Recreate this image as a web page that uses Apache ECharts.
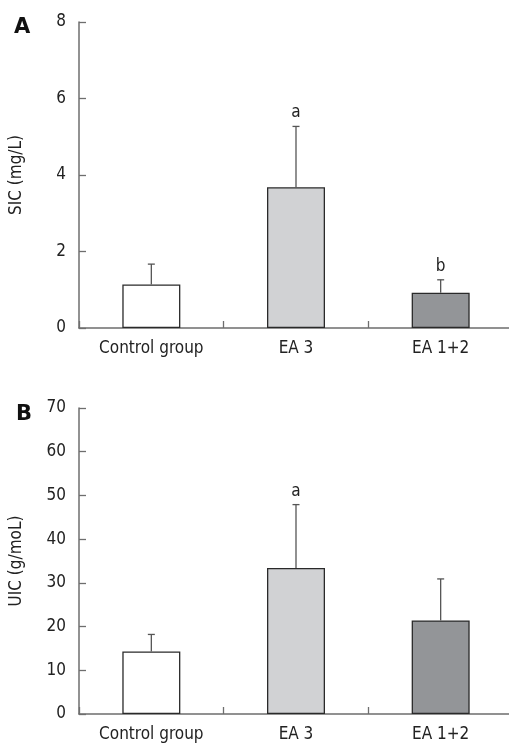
<!DOCTYPE html>
<html>
<head>
<meta charset="utf-8">
<script src="https://cdn.jsdelivr.net/npm/echarts@6/dist/echarts.min.js"></script>
<style>
  html, body { margin: 0; padding: 0; background: #fff; }
  #chart { width: 509px; height: 745px; }
</style>
</head>
<body>
<div id="chart"></div>
<script>
'use strict';

//data
var groups = ['Control group', 'EA 3', 'EA 1+2'];
var barColors = ['#ffffff', '#d1d2d4', '#939598'];

var sicMean = [1.14, 3.68, 0.92];
var sicSd = [0.53, 1.59, 0.34];
var sicSig = ['', 'a', 'b'];

var uicMean = [14.3, 33.4, 21.4];
var uicSd = [3.9, 14.5, 9.5];
var uicSig = ['', 'a', ''];

var FONT = '"DejaVu Sans Condensed", "DejaVu Sans", sans-serif';
var AXIS = '#6e6e6e';

//build bar data with per-item colours
function barData(values) {
  return values.map(function(v, i) {
    return { value: v, itemStyle: { color: barColors[i] } };
  });
}

//error bar (upper only) + significance letter
function errRender(sig) {
  return function(params, api) {
    var i = api.value(0);
    var base = api.coord([i, api.value(1)]);
    var top = api.coord([i, api.value(1) + api.value(2)]);
    var style = { stroke: '#555', lineWidth: 1.3 };
    var children = [
      { type: 'line', shape: { x1: base[0], y1: base[1], x2: top[0], y2: top[1] }, style: style },
      { type: 'line', shape: { x1: top[0] - 3.5, y1: top[1], x2: top[0] + 3.5, y2: top[1] }, style: style }
    ];
    if (sig[i]) {
      children.push({
        type: 'text',
        style: {
          x: top[0], y: top[1] - 5, text: sig[i],
          align: 'center', verticalAlign: 'bottom',
          font: '17px ' + FONT, fill: '#222'
        }
      });
    }
    return { type: 'group', children: children };
  };
}

function errData(mean, sd) {
  return mean.map(function(m, i) { return [i, m, sd[i]]; });
}

function xAxis(gridIndex) {
  return {
    type: 'category', gridIndex: gridIndex, data: groups,
    axisLine: { lineStyle: { color: AXIS, width: 1.5 } },
    axisTick: { show: true, inside: true, length: 7, alignWithLabel: false, lineStyle: { color: AXIS, width: 1.3 } },
    axisLabel: { color: '#222', fontSize: 17, fontFamily: FONT, margin: 12 }
  };
}

function yAxis(gridIndex, max, interval, name) {
  return {
    type: 'value', gridIndex: gridIndex, min: 0, max: max, interval: interval,
    name: name, nameLocation: 'middle', nameGap: 54,
    nameTextStyle: { color: '#222', fontSize: 17, fontFamily: FONT },
    axisLine: { show: true, lineStyle: { color: AXIS, width: 1.5 } },
    axisTick: { show: true, inside: true, length: 7, lineStyle: { color: AXIS, width: 1.3 } },
    axisLabel: { color: '#222', fontSize: 17, fontFamily: FONT, margin: 13 },
    splitLine: { show: false }
  };
}

var chart = echarts.init(document.getElementById('chart'));

chart.setOption({
  animation: false,
  backgroundColor: '#fff',
  title: [
    { text: 'A', left: 9, top: 12, textStyle: { fontSize: 21, fontWeight: 'bold', fontFamily: '"DejaVu Sans", sans-serif', color: '#111' } },
    { text: 'B', left: 11, top: 399, textStyle: { fontSize: 21, fontWeight: 'bold', fontFamily: '"DejaVu Sans", sans-serif', color: '#111' } }
  ],
  grid: [
    { left: 79, width: 434, top: 22, height: 306, outerBoundsMode: 'none' },
    { left: 79, width: 434, top: 408, height: 306, outerBoundsMode: 'none' }
  ],
  xAxis: [xAxis(0), xAxis(1)],
  yAxis: [yAxis(0, 8, 2, 'SIC (mg/L)'), yAxis(1, 70, 10, 'UIC (g/moL)')],
  series: [
    {
      type: 'bar', xAxisIndex: 0, yAxisIndex: 0, barWidth: 58,
      data: barData(sicMean),
      itemStyle: { borderColor: '#2a2a2a', borderWidth: 1.3 }
    },
    {
      type: 'custom', xAxisIndex: 0, yAxisIndex: 0, z: 5,
      renderItem: errRender(sicSig), data: errData(sicMean, sicSd)
    },
    {
      type: 'bar', xAxisIndex: 1, yAxisIndex: 1, barWidth: 58,
      data: barData(uicMean),
      itemStyle: { borderColor: '#2a2a2a', borderWidth: 1.3 }
    },
    {
      type: 'custom', xAxisIndex: 1, yAxisIndex: 1, z: 5,
      renderItem: errRender(uicSig), data: errData(uicMean, uicSd)
    }
  ]
});
</script>
</body>
</html>
